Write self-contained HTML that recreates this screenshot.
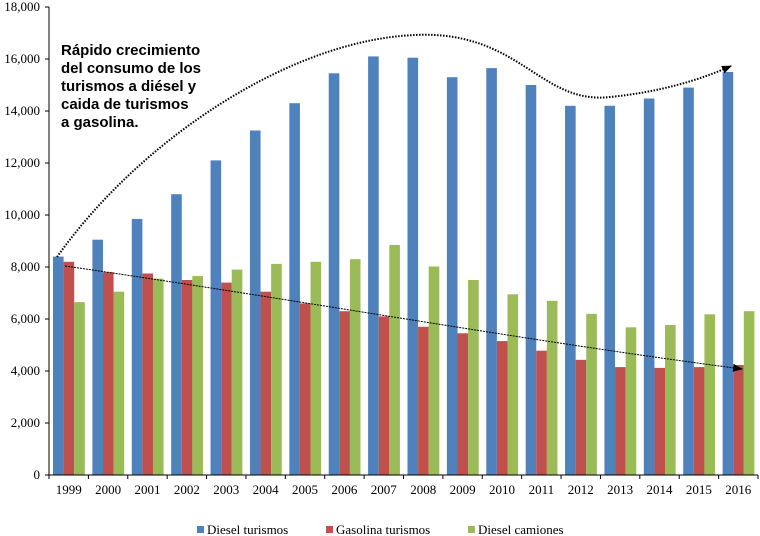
<!DOCTYPE html>
<html><head><meta charset="utf-8"><style>
body{margin:0;background:#fff;}
svg{display:block;font-family:"Liberation Serif",serif;}
</style></head><body>
<svg id="chart" width="760" height="536" viewBox="0 0 760 536">
<defs>
<marker id="arr" markerWidth="10" markerHeight="8" refX="9" refY="4" orient="auto" markerUnits="userSpaceOnUse"><path d="M0,0 L10,4 L0,8 Z" fill="#000"/></marker>
</defs>
<g id="bars"></g>
<g id="axes"></g>
<path d="M57,257 C140,140 290,40 415,35 C520,30 540,105 610,97 C660,92 700,80 731,66" fill="none" stroke="#000" stroke-width="2" stroke-dasharray="1.5,1.5" marker-end="url(#arr)"/>
<path d="M65,266 C300,300 520,340 742,369" fill="none" stroke="#000" stroke-width="1" stroke-dasharray="2,1" marker-end="url(#arr)"/>
<text font-family="Liberation Sans, sans-serif" font-weight="bold" font-size="15" fill="#000">
<tspan x="61" y="55">Rápido crecimiento</tspan>
<tspan x="61" y="73">del consumo de los</tspan>
<tspan x="61" y="91">turismos a diésel y</tspan>
<tspan x="61" y="109">caida de turismos</tspan>
<tspan x="61" y="127">a gasolina.</tspan>
</text>
<g>
<rect x="197" y="526" width="7" height="7" fill="#4f81bd"/>
<text x="207" y="534" font-size="13">Diesel turismos</text>
<rect x="326" y="526" width="7" height="7" fill="#c0504d"/>
<text x="336" y="534" font-size="13">Gasolina turismos</text>
<rect x="468" y="526" width="7" height="7" fill="#9bbb59"/>
<text x="478" y="534" font-size="13">Diesel camiones</text>
</g>
</svg>
<script>
const categories=["1999","2000","2001","2002","2003","2004","2005","2006","2007","2008","2009","2010","2011","2012","2013","2014","2015","2016"];
const dieselTurismos=[8400,9050,9850,10800,12100,13250,14300,15450,16100,16050,15300,15650,15000,14200,14200,14480,14900,15500];
const gasolinaTurismos=[8200,7800,7750,7500,7400,7050,6600,6300,6100,5700,5450,5150,4780,4430,4150,4120,4150,4230];
const dieselCamiones=[6650,7050,7550,7650,7900,8120,8200,8300,8850,8020,7500,6950,6700,6200,5680,5770,6180,6300];
const yTicks=[0,2000,4000,6000,8000,10000,12000,14000,16000,18000];
const yTickLabels=["0","2,000","4,000","6,000","8,000","10,000","12,000","14,000","16,000","18,000"];
const NS="http://www.w3.org/2000/svg";
const x0=49,x1=758,y0=475,yTop=7,yMax=18000;
const band=(x1-x0)/categories.length;
function y(v){return y0-(v/yMax)*(y0-yTop);}
function xb(i){return x0+i*band;}
const bars=document.getElementById('bars');
const axes=document.getElementById('axes');
const series=[[dieselTurismos,"#4f81bd","diesel-turismos"],[gasolinaTurismos,"#c0504d","gasolina-turismos"],[dieselCamiones,"#9bbb59","diesel-camiones"]];
const bw=10.6,off=4;
series.forEach((s,si)=>{
  s[0].forEach((v,i)=>{
    const r=document.createElementNS(NS,'rect');
    
    
    r.setAttribute('x',xb(i)+off+si*bw);
    r.setAttribute('y',y(v));
    r.setAttribute('width',bw);
    r.setAttribute('height',y0-y(v));
    r.setAttribute('fill',s[1]);
    bars.appendChild(r);
  });
});
function line(a,b,c,d,name){
  const l=document.createElementNS(NS,'line');
  
  
  l.setAttribute('x1',a);l.setAttribute('y1',b);l.setAttribute('x2',c);l.setAttribute('y2',d);
  l.setAttribute('stroke','#000');l.setAttribute('stroke-width','1');
  axes.appendChild(l);
}
line(x0,yTop,x0,y0,'y-axis');
line(x0,y0,x1,y0,'x-axis');
yTicks.forEach((t,i)=>{
  line(x0-4,y(t),x0,y(t),'y-tick');
  const tx=document.createElementNS(NS,'text');
  
  
  tx.setAttribute('x',x0-9);tx.setAttribute('y',y(t)+4);
  tx.setAttribute('text-anchor','end');tx.setAttribute('font-size','13');
  tx.textContent=yTickLabels[i];
  axes.appendChild(tx);
});
categories.forEach((c,i)=>{
  line(xb(i),y0,xb(i),y0+4,'x-tick');
  const tx=document.createElementNS(NS,'text');
  
  
  tx.setAttribute('x',xb(i)+band/2);tx.setAttribute('y',y0+19);
  tx.setAttribute('text-anchor','middle');tx.setAttribute('font-size','13');
  tx.textContent=c;
  axes.appendChild(tx);
});
line(x1,y0,x1,y0+4,'x-tick');
</script>
</body></html>
